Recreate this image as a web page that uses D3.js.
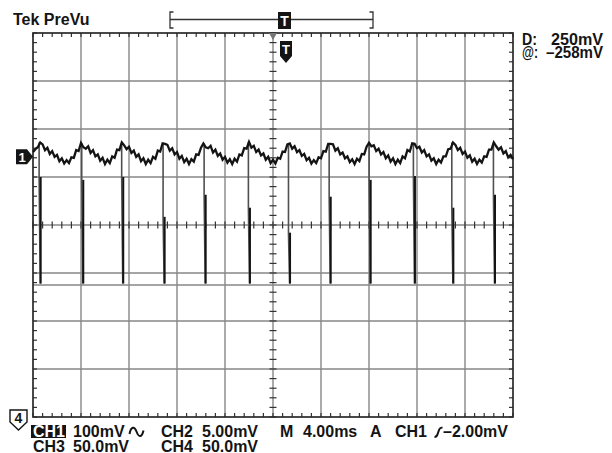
<!DOCTYPE html>
<html><head><meta charset="utf-8">
<script src="https://cdn.jsdelivr.net/npm/d3@7"></script>
<style>
html,body{margin:0;padding:0;background:#fff;}
svg{display:block;}
text{font-family:"Liberation Sans",Arial,Helvetica,sans-serif;font-weight:bold;}
</style>
</head><body>
<svg id="c" width="612" height="453"></svg>
<script>
// ---------------- data ----------------
const timePerDivMs = 4;
const ch1MvPerDiv = 100;
const ch1PositionDiv = 1.42;
const sampleStartMs = -20;
const sampleStepMs = 0.2;

// CH1 plateau samples (mV), one every 0.2 ms from -20 ms to +20 ms
const ch1Mv = [
  10, 16, 20, 30,
  26, 14, 19, 6, 12, 0, 4, -9, -3, -14, -7, -13, -1, -2, 14, 12, 29,
  20, 17, 22, 8, 14, 1, 5, -8, -2, -15, -6, -13, 1, -2, 15, 14, 30,
  24, 16, 21, 8, 13, 0, 5, -9, -3, -15, -6, -13, 0, -4, 13, 11, 28, 27,
  25, 13, 18, 5, 10, -4, 2, -11, -4, -15, -5, -10, 5, 4, 19, 28,
  20, 18, 23, 9, 15, 2, 7, -6, 0, -12, -5, -15, -4, -10, 5, 3, 18, 17, 31,
  19, 23, 10, 15, 3, 7, -6, 0, -13, -6, -14, -2, -4, 11, 10, 26, 28,
  17, 22, 10, 14, 2, 6, -7, -2, -14, -7, -13, -1, -3, 12, 11, 27, 27,
  26, 13, 18, 5, 9, -3, 1, -11, -5, -15, -4, -9, 6, 5, 21, 29,
  22, 24, 12, 17, 5, 10, -3, 3, -10, -3, -15, -6, -13, 1, -3, 14, 11, 28, 27,
  18, 21, 9, 14, 1, 5, -8, -3, -15, -6, -12, 1, 1, 16, 17, 30,
  25, 14, 19, 6, 11, -2, 3, -10, -4, -15, -6, -12, 1, 0, 15, 15, 30,
  22, 15, 20, 7, 12, -1, 4, -5
];

// negative-going pulses
const pulseTimeMs   = [-19.36, -15.81, -12.48, -9.03, -5.61, -1.92, 1.42, 4.81, 8.14, 11.83, 15.03, 18.5];
const pulseBottomMv = [-264, -264, -264, -264, -264, -264, -264, -264, -264, -264, -264, -264];
const pulseKneeMv   = [-42, -48, -42, -125, -79, -106, -158, -83, -48, -40, -106, -79];

// horizontal bar cursor (visible one)
const cursorMv = [-267];

// readouts
const titleText = "Tek PreVu";
const cursorLabels = ["D:", "@:"];
const cursorValues = ["250mV", "\u2013258mV"];
const row1Texts = ["CH1", "100mV", "CH2", "5.00mV", "M", "4.00ms", "A", "CH1", "\u20132.00mV"];
const row2Texts = ["CH3", "50.0mV", "CH4", "50.0mV"];
const groundMarkerLabel = "1";
const offscreenMarkerLabel = "4";
const triggerLabel = "T";

// ---------------- layout ----------------
const svg = d3.select("#c");
const L = 33, R = 513, T = 33, B = 417;
const x = d3.scaleLinear().domain([-5 * timePerDivMs, 5 * timePerDivMs]).range([L, R]);
const yDiv = d3.scaleLinear().domain([-4, 4]).range([B, T]);
const yMv = mv => yDiv(mv / ch1MvPerDiv + ch1PositionDiv);

const gridCol = "#878787", ink = "#141414";

// grid lines
const grid = svg.append("g");
grid.selectAll("line.vg").data(d3.range(-4, 5).map(d => d * timePerDivMs)).join("line").attr("class", "vg")
  .attr("x1", d => x(d)).attr("x2", d => x(d)).attr("y1", T).attr("y2", B)
  .attr("stroke", gridCol).attr("stroke-width", 1.4);
grid.selectAll("line.hg").data(d3.range(-3, 4)).join("line").attr("class", "hg")
  .attr("x1", L).attr("x2", R).attr("y1", d => yDiv(d)).attr("y2", d => yDiv(d))
  .attr("stroke", gridCol).attr("stroke-width", 1.4);

// cursor line
grid.selectAll("line.cur").data(cursorMv).join("line").attr("class", "cur")
  .attr("x1", L).attr("x2", R).attr("y1", d => yMv(d)).attr("y2", d => yMv(d))
  .attr("stroke", gridCol).attr("stroke-width", 1.4);

// minor ticks
const xMinor = d3.range(-25, 26).map(d => d * timePerDivMs / 5);
const yMinor = d3.range(-20, 21).map(d => d / 5);
const ticks = svg.append("g").attr("stroke", "#333").attr("stroke-width", 1.2);
ticks.selectAll("line.tt").data(xMinor).join("line").attr("class", "tt")
  .attr("x1", d => x(d)).attr("x2", d => x(d)).attr("y1", T).attr("y2", T + 4);
ticks.selectAll("line.tb").data(xMinor).join("line").attr("class", "tb")
  .attr("x1", d => x(d)).attr("x2", d => x(d)).attr("y1", B).attr("y2", B - 4);
ticks.selectAll("line.tc").data(xMinor).join("line").attr("class", "tc")
  .attr("x1", d => x(d)).attr("x2", d => x(d)).attr("y1", yDiv(0) - 3.5).attr("y2", yDiv(0) + 3.5);
ticks.selectAll("line.tl").data(yMinor).join("line").attr("class", "tl")
  .attr("y1", d => yDiv(d)).attr("y2", d => yDiv(d)).attr("x1", L).attr("x2", L + 4);
ticks.selectAll("line.tr").data(yMinor).join("line").attr("class", "tr")
  .attr("y1", d => yDiv(d)).attr("y2", d => yDiv(d)).attr("x1", R).attr("x2", R - 4);
ticks.selectAll("line.tm").data(yMinor).join("line").attr("class", "tm")
  .attr("y1", d => yDiv(d)).attr("y2", d => yDiv(d)).attr("x1", x(0) - 3.5).attr("x2", x(0) + 3.5);

// border
svg.append("rect").attr("x", L).attr("y", T).attr("width", R - L).attr("height", B - T)
  .attr("fill", "none").attr("stroke", "#2a2a2a").attr("stroke-width", 1.7);

// ---------------- waveform ----------------
const samples = ch1Mv.map((v, i) => ({ t: sampleStartMs + i * sampleStepMs, v }));
const prevValue = tp => { let p = samples[0]; for (const s of samples) { if (s.t < tp) p = s; } return p.v; };

const wave = svg.append("g");
// gray falling edges
wave.selectAll("path.edge").data(pulseTimeMs).join("path").attr("class", "edge")
  .attr("d", (tp, i) => d3.line()([
    [x(tp - 0.13), yMv(prevValue(tp))],
    [x(tp - 0.13), yMv(pulseKneeMv[i])],
    [x(tp - 0.04), yMv(pulseBottomMv[i])]
  ]))
  .attr("fill", "none").attr("stroke", "#505050").attr("stroke-width", 1.6);
// plateau trace (noisy band)
const lineGen = d3.line().x(d => x(d.t)).y(d => yMv(d.v));
wave.append("path").datum(samples).attr("d", lineGen)
  .attr("fill", "none").attr("stroke", ink).attr("stroke-width", 2.3).attr("stroke-linejoin", "miter");
// dark pulse bodies
wave.selectAll("line.pulse").data(pulseTimeMs).join("line").attr("class", "pulse")
  .attr("x1", d => x(d)).attr("x2", d => x(d))
  .attr("y1", (d, i) => yMv(pulseKneeMv[i])).attr("y2", (d, i) => yMv(pulseBottomMv[i]))
  .attr("stroke", ink).attr("stroke-width", 2);

// ---------------- markers ----------------
svg.append("path").attr("d", `M${x(0) - 4},${T} L${x(0) + 4},${T} L${x(0)},${T + 7} Z`).attr("fill", "#777");
const tmx = x(0) + 13;
svg.append("path").attr("d", `M${tmx - 6},41 H${tmx + 6} V56 L${tmx},63 L${tmx - 6},56 Z`).attr("fill", ink);
svg.append("text").attr("x", tmx).attr("y", 54).attr("text-anchor", "middle").attr("fill", "#fff")
  .attr("font-size", 13).text(triggerLabel);

const gy = yMv(0);
svg.append("path").attr("d", `M16,${gy - 7.5} H27 L33,${gy} L27,${gy + 7.5} H16 Z`).attr("fill", ink);
svg.append("text").attr("x", 22).attr("y", gy + 5).attr("text-anchor", "middle").attr("fill", "#fff")
  .attr("font-size", 13).text(groundMarkerLabel);

svg.append("path").attr("d", "M10,410 H27 V422 L18.5,430 L10,422 Z").attr("fill", "#fff").attr("stroke", ink).attr("stroke-width", 1.4);
svg.append("text").attr("x", 18.5).attr("y", 423).attr("text-anchor", "middle").attr("fill", ink)
  .attr("font-size", 14).text(offscreenMarkerLabel);

const bar = svg.append("g").attr("stroke", "#333").attr("stroke-width", 1.3).attr("fill", "none");
bar.append("path").attr("d", "M173.5,12 H170 V28 H173.5");
bar.append("path").attr("d", "M369.5,12 H373 V28 H369.5");
bar.append("path").attr("d", "M170,19.5 H373");
svg.append("rect").attr("x", 278).attr("y", 12).attr("width", 13).attr("height", 17).attr("fill", ink);
svg.append("text").attr("x", 284.5).attr("y", 25.5).attr("text-anchor", "middle").attr("fill", "#fff")
  .attr("font-size", 14).text(triggerLabel);

// ---------------- readouts ----------------
svg.append("text").attr("x", 13).attr("y", 25).attr("font-size", 16).attr("fill", ink).text(titleText);

const curY = [45, 58], curLabelW = [15, 16], curValX = [551, 546], curValW = [52, 57];
cursorLabels.forEach((t, i) => svg.append("text").attr("x", 522).attr("y", curY[i]).attr("font-size", 16)
  .attr("textLength", curLabelW[i]).attr("lengthAdjust", "spacingAndGlyphs").attr("fill", ink).text(t));
cursorValues.forEach((t, i) => svg.append("text").attr("x", curValX[i]).attr("y", curY[i])
  .attr("textLength", curValW[i]).attr("lengthAdjust", "spacingAndGlyphs")
  .attr("font-size", 16).attr("fill", ink).text(t));

svg.append("rect").attr("x", 31).attr("y", 425).attr("width", 35).attr("height", 13).attr("fill", ink);
const row1X = [33, 73, 161, 202, 280, 303, 370, 395, 443];
row1Texts.forEach((t, i) => svg.append("text").attr("x", row1X[i]).attr("y", 437).attr("font-size", 16)
  .attr("fill", i === 0 ? "#fff" : ink).text(t));
const row2X = [33, 73, 161, 202];
row2Texts.forEach((t, i) => svg.append("text").attr("x", row2X[i]).attr("y", 452).attr("font-size", 16).attr("fill", ink).text(t));

svg.append("path").attr("d", "M129.5,434 C131,426 134.5,426 136.5,431.5 S141.5,438.5 143.5,430.5")
  .attr("fill", "none").attr("stroke", ink).attr("stroke-width", 2);
svg.append("path").attr("d", "M434.5,437 Q437,437 437.8,433.5 L439.2,429.5 Q440,427.5 442.5,427.5")
  .attr("fill", "none").attr("stroke", ink).attr("stroke-width", 2);
</script>
</body></html>
